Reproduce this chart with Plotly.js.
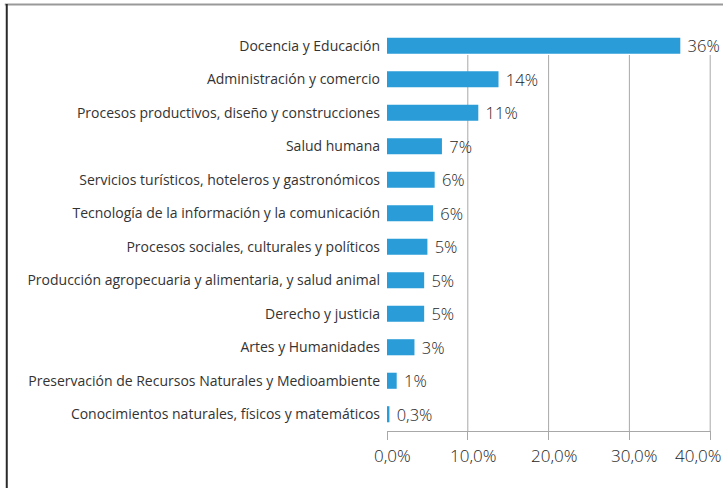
<!DOCTYPE html>
<html>
<head>
<meta charset="utf-8">
<script src="https://cdn.plot.ly/plotly-3.0.1.min.js"></script>
<style>html,body{margin:0;padding:0;background:#fff;}#chart{width:723px;height:488px;}</style>
</head>
<body>
<div id="chart"></div>
<script>
var categories = [
  "Docencia y Educación",
  "Administración y comercio",
  "Procesos productivos, diseño y construcciones",
  "Salud humana",
  "Servicios turísticos, hoteleros y gastronómicos",
  "Tecnología de la información y la comunicación",
  "Procesos sociales, culturales y políticos",
  "Producción agropecuaria y alimentaria, y salud animal",
  "Derecho y justicia",
  "Artes y Humanidades",
  "Preservación de Recursos Naturales y Medioambiente",
  "Conocimientos naturales, físicos y matemáticos"
];
var values = [36.3, 13.8, 11.3, 6.8, 5.9, 5.7, 5.0, 4.6, 4.6, 3.4, 1.2, 0.3];
var valueLabels = ["36%", "14%", "11%", "7%", "6%", "6%", "5%", "5%", "5%", "3%", "1%", "0,3%"];
var tickValues = [0, 10, 20, 30, 40];
var tickLabels = ["0,0%", "10,0%", "20,0%", "30,0%", "40,0%"];

var font = "'Open Sans', sans-serif";
var numFont = {family: font, size: 16.5, color: "#1e1e1e", weight: 300};

var trace = {
  type: "bar",
  orientation: "h",
  y: categories,
  x: values,
  text: valueLabels,
  texttemplate: "\u00a0%{text}",
  textposition: "outside",
  constraintext: "none",
  cliponaxis: false,
  textfont: numFont,
  outsidetextfont: numFont,
  marker: {color: "#2a9cd8"},
  hoverinfo: "none"
};

var W = 323.8;
function px(x) { return (x - 387) / W; }
function py(y) { return (431 - y) / 402; }

var shapes = tickValues.slice(1).map(function (v) {
  return {type: "line", xref: "x", yref: "paper", x0: v, x1: v, y0: 0, y1: py(55),
          line: {color: "#a8a8a8", width: 1}, layer: "below"};
});
shapes.push({type: "line", xref: "paper", yref: "paper", x0: px(5), x1: px(740), y0: py(4.5), y1: py(4.5),
  line: {color: "#999999", width: 2}});
shapes.push({type: "line", xref: "paper", yref: "paper", x0: px(7), x1: px(7), y0: py(4), y1: py(500),
  line: {color: "#2a2a2a", width: 2}});

var annotations = tickValues.map(function (v, i) {
  var last = i === tickValues.length - 1;
  return {
    x: v, xref: "x", y: 0, yref: "paper",
    text: tickLabels[i],
    showarrow: false,
    xanchor: last ? "right" : "center",
    yanchor: "top",
    xshift: last ? 13 : 5,
    yshift: -11,
    font: {family: font, size: 17, color: "#1e1e1e", weight: 300}
  };
});

var layout = {
  width: 723,
  height: 488,
  margin: {l: 387, r: 12.2, t: 29, b: 57},
  paper_bgcolor: "#ffffff",
  plot_bgcolor: "#ffffff",
  showlegend: false,
  bargap: 0.52,
  shapes: shapes,
  annotations: annotations,
  xaxis: {
    range: [0, 40.1],
    tickvals: tickValues,
    showticklabels: false,
    showgrid: false,
    zeroline: false,
    showline: true,
    linecolor: "#a8a8a8",
    linewidth: 1,
    ticks: "outside",
    ticklen: 8,
    tickcolor: "#a8a8a8",
    fixedrange: true
  },
  yaxis: {
    autorange: "reversed",
    showgrid: false,
    zeroline: false,
    showline: false,
    ticks: "",
    ticklabelstandoff: 6,
    tickfont: {family: font, size: 14, color: "#333333"},
    fixedrange: true
  }
};

Plotly.newPlot("chart", [trace], layout, {displayModeBar: false, staticPlot: true});
</script>
</body>
</html>
